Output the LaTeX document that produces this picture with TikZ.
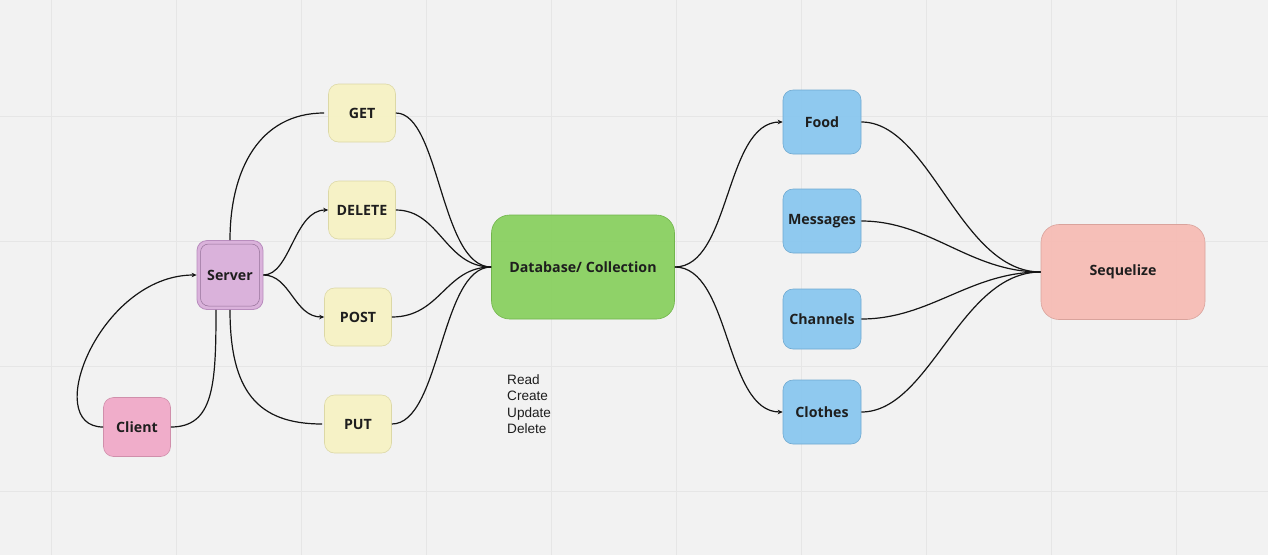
\documentclass[tikz,border=0pt]{standalone}
\usepackage{fontspec}
\setmainfont{Open Sans}
\newfontfamily\arialfont{Liberation Sans}
\usetikzlibrary{arrows.meta}
\definecolor{bg}{HTML}{F2F2F2}
\definecolor{gridc}{HTML}{E6E6E6}
\definecolor{yel}{HTML}{F7F3C3}
\definecolor{yelb}{HTML}{DCD8A6}
\definecolor{blu}{HTML}{88C6EF}
\definecolor{blub}{HTML}{6FA9D0}
\definecolor{grn}{HTML}{88D05E}
\definecolor{grnb}{HTML}{72B54C}
\definecolor{sqf}{HTML}{F7BCB4}
\definecolor{sqb}{HTML}{D9A39C}
\definecolor{clf}{HTML}{F0A8C7}
\definecolor{clb}{HTML}{D08FAB}
\definecolor{svf}{HTML}{D9AEDA}
\definecolor{svb}{HTML}{B98DBE}
\definecolor{txt}{HTML}{1E1E1E}
\definecolor{ln}{HTML}{151515}
\begin{document}
\begin{tikzpicture}[x=1pt,y=-1pt,
  box/.style={rectangle, rounded corners=10pt, inner sep=0pt, line width=0.6pt,
    text=txt, font=\fontsize{14.2}{16}\selectfont\bfseries, fill opacity=0.93, text opacity=1},
  yelbox/.style={box, fill=yel, draw=yelb, minimum width=67pt, minimum height=58pt},
  blubox/.style={box, fill=blu, draw=blub, minimum width=78pt, minimum height=64pt},
  conn/.style={draw=ln, line width=1.2pt},
  arr/.style={conn, -{Stealth[length=5pt,width=4.5pt]}}
]
\fill[bg] (0,0) rectangle (1268,555);
\useasboundingbox (0,0) rectangle (1268,555);
\foreach \gx in {51,176,...,1176} \draw[gridc, line width=0.9pt] (\gx,0) -- (\gx,555);
\foreach \gy in {116,241,366,491} \draw[gridc, line width=0.9pt] (0,\gy) -- (1268,\gy);

% nodes
\node[yelbox] (get) at (362,113) {GET};
\node[yelbox] (del) at (362,210) {DELETE};
\node[yelbox] (post) at (358,317) {POST};
\node[yelbox] (put) at (358,424) {PUT};
\node[box, fill=svf, draw=svb, minimum width=66pt, minimum height=69pt, line width=0.8pt] (srv) at (230,275) {};
\node[box, rounded corners=8pt, draw=svb!80!black, line width=0.5pt, minimum width=59pt, minimum height=62pt] (srvin) at (230,275) {Server};
\node[box, fill=clf, draw=clb, minimum width=67pt, minimum height=59pt] (cli) at (137,427) {Client};
\node[box, rounded corners=18pt, fill=grn, draw=grnb, minimum width=183pt, minimum height=104pt] (db) at (583,267) {Database/ Collection};
\node[blubox] (food) at (822,122) {Food};
\node[blubox] (msg) at (822,221) {Messages};
\node[blubox, minimum height=60pt] (chan) at (822,319) {Channels};
\node[blubox] (clo) at (822,412) {Clothes};
\node[box, rounded corners=18pt, fill=sqf, draw=sqb, minimum width=164pt, minimum height=95pt] (seq) at (1123,272) {Sequelize};
\node[anchor=north west, align=left, inner sep=0pt, text=txt,
  font=\arialfont\fontsize{13.6}{16.4}\selectfont] (crud) at (507,374.5) {Read\\Create\\Update\\Delete};

% client <-> server
\draw[arr] (cli.west) .. controls +(-63,0) and +(-97,0) .. (srv.west);
\draw[conn] (cli.east) .. controls +(43,0) and +(0,75) .. ([xshift=-14pt]srv.south);

% server -> methods
\draw[conn] (srv.north) .. controls +(0,-70) and +(-65,0) .. ([xshift=-4pt]get.west);
\draw[arr] (srv.east) .. controls +(27,0) and +(-34,0) .. (del.west);
\draw[arr] (srv.east) .. controls +(27,0) and +(-30,0) .. (post.west);
\draw[conn] (srv.south) .. controls +(0,81) and +(-65,0) .. ([xshift=-2pt]put.west);

% methods -> database
\draw[conn] (get.east) .. controls +(44,0) and +(-51,0) .. (db.west);
\draw[conn] (del.east) .. controls +(44,0) and +(-46,0) .. (db.west);
\draw[conn] (post.east) .. controls +(49,0) and +(-46,0) .. (db.west);
\draw[conn] (put.east) .. controls +(49,0) and +(-51,0) .. (db.west);

% database -> tables
\draw[arr] (db.east) .. controls +(56,0) and +(-58,0) .. (food.west);
\draw[arr] (db.east) .. controls +(56,0) and +(-58,0) .. (clo.west);

% tables -> sequelize
\draw[conn] (food.east) .. controls +(69,0) and +(-81,0) .. (seq.west);
\draw[conn] (msg.east) .. controls +(69,0) and +(-71,0) .. (seq.west);
\draw[conn] (chan.east) .. controls +(69,0) and +(-71,0) .. (seq.west);
\draw[conn] (clo.east) .. controls +(69,0) and +(-81,0) .. (seq.west);
\end{tikzpicture}
\end{document}
